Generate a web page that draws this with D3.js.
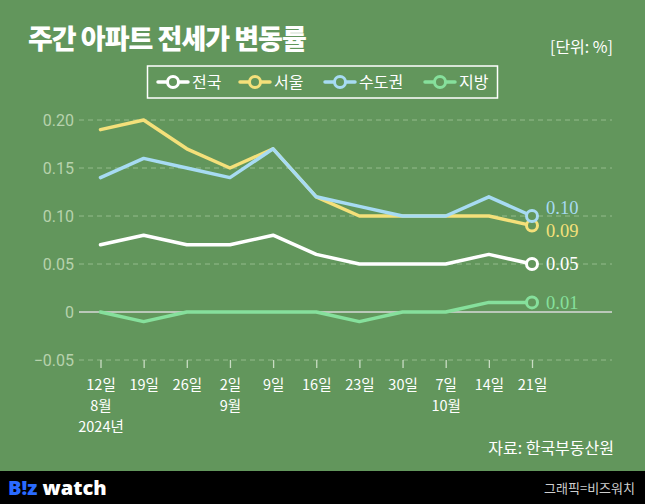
<!DOCTYPE html>
<html><head><meta charset="utf-8">
<script src="https://cdn.jsdelivr.net/npm/d3@7"></script>
<style>html,body{margin:0;padding:0;background:#62965c;}svg{display:block;}</style>
</head><body>
<svg id="c" width="645" height="504"></svg>
<script>
const weeks = ["12일","19일","26일","2일","9일","16일","23일","30일","7일","14일","21일"];
const months = ["8월","","","9월","","","","","10월","",""];
const years = ["2024년","","","","","","","","","",""];
const seriesNames = ["전국","서울","수도권","지방"];
const seriesColors = ["#ffffff","#f4e07a","#a7dbf3","#86e09c"];
const nationwide = [0.07,0.08,0.07,0.07,0.08,0.06,0.05,0.05,0.05,0.06,0.05];
const seoul = [0.19,0.20,0.17,0.15,0.17,0.12,0.10,0.10,0.10,0.10,0.09];
const capital = [0.14,0.16,0.15,0.14,0.17,0.12,0.11,0.10,0.10,0.12,0.10];
const regional = [0,-0.01,0,0,0,0,-0.01,0,0,0.01,0.01];
const yTicks = [-0.05,0,0.05,0.10,0.15,0.20];
const endLabels = ["0.05","0.09","0.10","0.01"];
const labelDy = [0,5,-8,0];

const series = [nationwide, seoul, capital, regional];
const svg = d3.select("#c");
const W = 645, H = 504;
const kr = "'Noto Sans CJK KR', sans-serif";

svg.append("rect").attr("width",W).attr("height",H).attr("fill","#62965c");

const x = d3.scalePoint().domain(d3.range(weeks.length)).range([100.5, 532]);
const y = d3.scaleLinear().domain([-0.05, 0.20]).range([360, 120]);

// grid
const gl = 79, gr = 612;
yTicks.forEach(t => {
  svg.append("line").attr("x1",gl).attr("x2",gr).attr("y1",y(t)).attr("y2",y(t))
    .attr("stroke", t===0 ? "#d9d9d9" : "#93bb8b").attr("stroke-width", t===0?1.3:1)
    .attr("stroke-dasharray", t===0 ? null : "5,4");
});

// y axis labels
const yAxis = d3.axisLeft(y).tickValues(yTicks).tickSize(0).tickPadding(0)
  .tickFormat(d => d===0 ? "0" : d3.format(".2f")(d).replace("-","−"));
const ya = svg.append("g").attr("transform","translate(74,0)").call(yAxis);
ya.select(".domain").remove();
ya.selectAll("text").attr("fill","#b7d2ad").attr("font-family","Roboto, 'Liberation Sans', sans-serif").attr("font-size",16).attr("dy","0.35em");

// x axis
const xa = svg.append("g").attr("transform","translate(0,360)")
  .call(d3.axisBottom(x).tickSize(8).tickFormat(""));
xa.select(".domain").remove();
xa.selectAll("line").attr("stroke","#c9dcc3").attr("stroke-width",1.3);
xa.selectAll(".tick").each(function(d,i){
  const g = d3.select(this);
  [weeks[i], months[i], years[i]].forEach((s, k) => {
    if (!s) return;
    g.append("text").attr("x",0).attr("y", 25 + k*21).attr("dy","0.35em")
      .attr("text-anchor","middle").attr("fill","#ffffff")
      .attr("font-family",kr).attr("font-size",14.5).text(s);
  });
});

// lines
const line = d3.line().x((d,i)=>x(i)).y(d=>y(d));
const drawOrder = [3,0,1,2];
drawOrder.forEach(si => {
  svg.append("path").datum(series[si]).attr("d",line).attr("fill","none")
    .attr("stroke",seriesColors[si]).attr("stroke-width",3.5)
    .attr("stroke-linejoin","round").attr("stroke-linecap","round");
});
const last = weeks.length-1;
drawOrder.forEach(si => {
  svg.append("circle").attr("cx",x(last)).attr("cy",y(series[si][last])).attr("r",5.5)
    .attr("fill","#62965c").attr("stroke",seriesColors[si]).attr("stroke-width",3);
  svg.append("text").attr("x",x(last)+14).attr("y",y(series[si][last])+labelDy[si]).attr("dy","0.35em")
    .attr("fill",seriesColors[si]).attr("font-family","'Liberation Serif', 'DejaVu Serif', serif")
    .attr("font-size",18.5).text(endLabels[si]);
});

// title
svg.append("text").attr("x",28).attr("y",40).attr("dy","0.35em").attr("fill","#fff")
  .attr("font-family",kr).attr("font-weight",900).attr("font-size",27).attr("letter-spacing",-1)
  .text("주간 아파트 전세가 변동률");
svg.append("text").attr("x",613).attr("y",47).attr("dy","0.35em").attr("text-anchor","end").attr("fill","#fff")
  .attr("font-family",kr).attr("font-size",16).text("[단위: %]");

// legend
svg.append("rect").attr("x",147.5).attr("y",66).attr("width",350).attr("height",32)
  .attr("fill","none").attr("stroke","#fff").attr("stroke-width",1.5);
const legendX = [158, 240, 325, 425];
seriesNames.forEach((n,i) => {
  const lx = legendX[i];
  svg.append("line").attr("x1",lx).attr("x2",lx+30).attr("y1",82).attr("y2",82)
    .attr("stroke",seriesColors[i]).attr("stroke-width",3.5).attr("stroke-linecap","round");
  svg.append("circle").attr("cx",lx+15).attr("cy",82).attr("r",5.5)
    .attr("fill","#62965c").attr("stroke",seriesColors[i]).attr("stroke-width",3);
  svg.append("text").attr("x",lx+34).attr("y",82).attr("dy","0.35em").attr("fill","#fff")
    .attr("font-family",kr).attr("font-size",16).text(n);
});

// source
svg.append("text").attr("x",614).attr("y",448).attr("dy","0.35em").attr("text-anchor","end").attr("fill","#fff")
  .attr("font-family",kr).attr("font-size",16).text("자료: 한국부동산원");

// footer
svg.append("rect").attr("x",0).attr("y",471).attr("width",W).attr("height",33).attr("fill","#000");
const logo = svg.append("text").attr("x",8).attr("y",488).attr("dy","0.35em")
  .attr("font-family","'Noto Sans', sans-serif").attr("font-weight",900).attr("font-size",20);
logo.append("tspan").attr("fill","#2a6bff").text("B!z");
logo.append("tspan").attr("fill","#fff").text(" watch");
svg.append("text").attr("x",635).attr("y",488).attr("dy","0.35em").attr("text-anchor","end").attr("fill","#cfcfcf")
  .attr("font-family",kr).attr("font-size",13).text("그래픽=비즈워치");
</script>
</body></html>
